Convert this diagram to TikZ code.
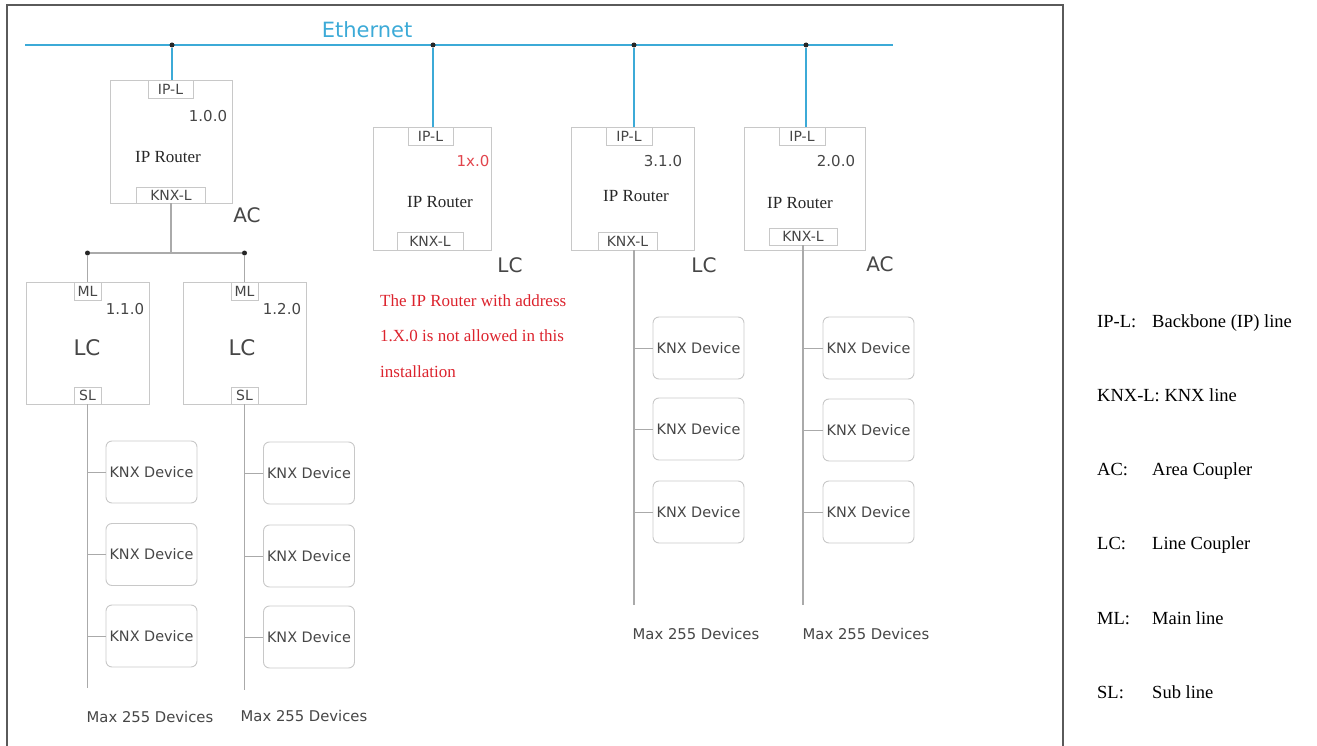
\documentclass[tikz,border=0pt]{standalone}
\usepackage{fontspec}
\setmainfont{Liberation Serif}
\newfontfamily\lab{DejaVu Sans}
\definecolor{ethc}{RGB}{60,170,215}
\definecolor{linec}{RGB}{170,170,170}
\definecolor{boxc}{RGB}{200,200,200}
\definecolor{txtc}{RGB}{70,70,70}
\definecolor{redc}{RGB}{220,35,45}
\definecolor{framec}{RGB}{90,90,90}
\tikzset{
  box/.style={draw=boxc, line width=0.9pt, inner sep=0pt},
  tab/.style={draw=boxc, fill=white, line width=0.8pt, inner sep=0pt, text=txtc, font=\lab\fontsize{14}{14}\selectfont},
  dev/.style={draw=boxc, line width=0.9pt, rounded corners=6pt, minimum width=91pt, minimum height=62pt, inner sep=0pt, text=txtc, font=\lab\fontsize{14.4}{14.4}\selectfont},
  wire/.style={draw=linec, line width=1.3pt},
  eth/.style={draw=ethc, line width=1.8pt},
  jdot/.style={circle, fill=black!85, inner sep=0pt, minimum size=5pt},
  addr/.style={text=txtc, font=\lab\fontsize{15}{15}\selectfont},
  rtr/.style={font=\fontsize{17}{17}\selectfont, text=black!85},
  cpl/.style={text=txtc, font=\lab\fontsize{20}{20}\selectfont},
  lcin/.style={text=txtc, font=\lab\fontsize{21.5}{21.5}\selectfont},
  maxd/.style={text=txtc, font=\lab\fontsize{14.8}{14.8}\selectfont},
  warn/.style={text=redc, anchor=west, inner sep=0pt, font=\fontsize{17}{17}\selectfont},
  leg/.style={anchor=base west, inner sep=0pt, font=\fontsize{18.5}{18.5}\selectfont}
}
\begin{document}
\begin{tikzpicture}[x=1pt,y=-1pt]
\useasboundingbox (0,0) rectangle (1317,746);
% frame
\draw[draw=framec, line width=1.5pt] (7,749) -- (7,5) -- (1063,5) -- (1063,749);
% Ethernet
\coordinate (ethL) at (25,45);
\coordinate (ethR) at (893,45);
\draw[eth] (ethL) -- (ethR);
\node[text=ethc, font=\lab\fontsize{21}{21}\selectfont] (ethlab) at (367,30) {Ethernet};
\node[jdot] (d1) at (172,45) {};
\node[jdot] (d2) at (433,45) {};
\node[jdot] (d3) at (634,45) {};
\node[jdot] (d4) at (806,45) {};

% Router 1 (AC 1.0.0)
\node[box, minimum width=122pt, minimum height=123pt] (r1) at (171,141.5) {};
\node[tab, minimum width=45pt, minimum height=18pt] (ip1) at (170.5,89) {IP-L};
\node[tab, minimum width=69pt, minimum height=16pt] (kx1) at (171,195) {KNX-L};
\node[addr] (a1) at (208,116) {1.0.0};
\node[rtr] (t1) at (168,157) {IP Router};
\node[cpl] (c1) at (247,215) {AC};
\draw[eth] (d1) -- (d1 |- ip1.north);

% junction of main line
\coordinate (j1) at (171,253);
\node[jdot] (jl) at (87.5,253) {};
\node[jdot] (jr) at (244.5,253) {};
\draw[wire] (kx1.south) -- (j1);
\draw[wire] (jl) -- (jr);

% LC 1.1.0
\node[box, minimum width=123pt, minimum height=122pt] (lc1) at (87.5,343) {};
\node[tab, minimum width=27pt, minimum height=18pt] (ml1) at (87.5,291) {ML};
\node[tab, minimum width=27pt, minimum height=17pt] (sl1) at (87.5,395.5) {SL};
\node[addr] (a11) at (125,309) {1.1.0};
\node[lcin] (lt1) at (87,348) {LC};
\draw[wire] (jl) -- (ml1.north);

% LC 1.2.0
\node[box, minimum width=123pt, minimum height=122pt] (lc2) at (244.5,343) {};
\node[tab, minimum width=27pt, minimum height=18pt] (ml2) at (244.5,291) {ML};
\node[tab, minimum width=27pt, minimum height=17pt] (sl2) at (244.5,395.5) {SL};
\node[addr] (a12) at (282,309) {1.2.0};
\node[lcin] (lt2) at (242,348) {LC};
\draw[wire] (jr) -- (ml2.north);

% sub lines of LCs
\coordinate (e1) at (87.5,688);
\coordinate (e2) at (244.5,690);
\draw[wire] (sl1.south) -- (e1);
\draw[wire] (sl2.south) -- (e2);
\node[dev] (k11) at (151.5,472) {KNX Device};
\node[dev] (k12) at (151.5,554.5) {KNX Device};
\node[dev] (k13) at (151.5,636) {KNX Device};
\node[dev] (k21) at (309,473) {KNX Device};
\node[dev] (k22) at (309,556) {KNX Device};
\node[dev] (k23) at (309,637) {KNX Device};
\foreach \k in {k11,k12,k13} \draw[wire, line width=0.9pt] (\k.west -| e1) -- (\k.west);
\foreach \k in {k21,k22,k23} \draw[wire, line width=0.9pt] (\k.west -| e2) -- (\k.west);
\node[maxd] (m1) at (150,717) {Max 255 Devices};
\node[maxd] (m2) at (304,716) {Max 255 Devices};

% Router 2 (1x.0)
\node[box, minimum width=118pt, minimum height=123pt] (r2) at (432,188.5) {};
\node[tab, minimum width=45pt, minimum height=18pt] (ip2) at (430.5,136) {IP-L};
\node[tab, minimum width=66pt, minimum height=18pt] (kx2) at (430,241) {KNX-L};
\node[addr, text=redc!85!white] (a2) at (473,161) {1x.0};
\node[rtr] (t2) at (440,202) {IP Router};
\node[cpl] (c2) at (510,265) {LC};
\draw[eth] (d2) -- (d2 |- ip2.north);
\node[warn] (w1) at (380,301) {The IP Router with address};
\node[warn] (w2) at (380,336) {1.X.0 is not allowed in this};
\node[warn] (w3) at (380,372) {installation};

% Router 3 (3.1.0)
\node[box, minimum width=123pt, minimum height=123pt] (r3) at (632.5,188.5) {};
\node[tab, minimum width=46pt, minimum height=18pt] (ip3) at (629,136) {IP-L};
\node[tab, minimum width=59pt, minimum height=18pt] (kx3) at (627.5,241) {KNX-L};
\node[addr] (a3) at (663,161) {3.1.0};
\node[rtr] (t3) at (636,196) {IP Router};
\node[cpl] (c3) at (704,265) {LC};
\draw[eth] (d3) -- (d3 |- ip3.north);
\coordinate (e3) at (634,605);
\draw[wire] (kx3.south -| e3) -- (e3);
\node[dev] (k31) at (698.5,348) {KNX Device};
\node[dev] (k32) at (698.5,429) {KNX Device};
\node[dev] (k33) at (698.5,512) {KNX Device};
\foreach \k in {k31,k32,k33} \draw[wire, line width=0.9pt] (\k.west -| e3) -- (\k.west);
\node[maxd] (m3) at (696,634) {Max 255 Devices};

% Router 4 (2.0.0)
\node[box, minimum width=121pt, minimum height=123pt] (r4) at (804.5,188.5) {};
\node[tab, minimum width=46pt, minimum height=18pt] (ip4) at (802,136) {IP-L};
\node[tab, minimum width=68pt, minimum height=17pt] (kx4) at (803,236.5) {KNX-L};
\node[addr] (a4) at (836,161) {2.0.0};
\node[rtr] (t4) at (800,203) {IP Router};
\node[cpl] (c4) at (880,264) {AC};
\draw[eth] (d4) -- (d4 |- ip4.north);
\coordinate (e4) at (803,605);
\draw[wire] (kx4.south -| e4) -- (e4);
\node[dev] (k41) at (868.5,348) {KNX Device};
\node[dev] (k42) at (868.5,430) {KNX Device};
\node[dev] (k43) at (868.5,512) {KNX Device};
\foreach \k in {k41,k42,k43} \draw[wire, line width=0.9pt] (\k.west -| e4) -- (\k.west);
\node[maxd] (m4) at (866,634) {Max 255 Devices};

% legend
\node[leg] (g1a) at (1097,327) {IP-L:};
\node[leg] (g1b) at (1152,327) {Backbone (IP) line};
\node[leg] (g2a) at (1097,401) {KNX-L: KNX line};
\node[leg] (g3a) at (1097,475) {AC:};
\node[leg] (g3b) at (1152,475) {Area Coupler};
\node[leg] (g4a) at (1097,549) {LC:};
\node[leg] (g4b) at (1152,549) {Line Coupler};
\node[leg] (g5a) at (1097,624) {ML:};
\node[leg] (g5b) at (1152,624) {Main line};
\node[leg] (g6a) at (1097,698) {SL:};
\node[leg] (g6b) at (1152,698) {Sub line};
\end{tikzpicture}
\end{document}
